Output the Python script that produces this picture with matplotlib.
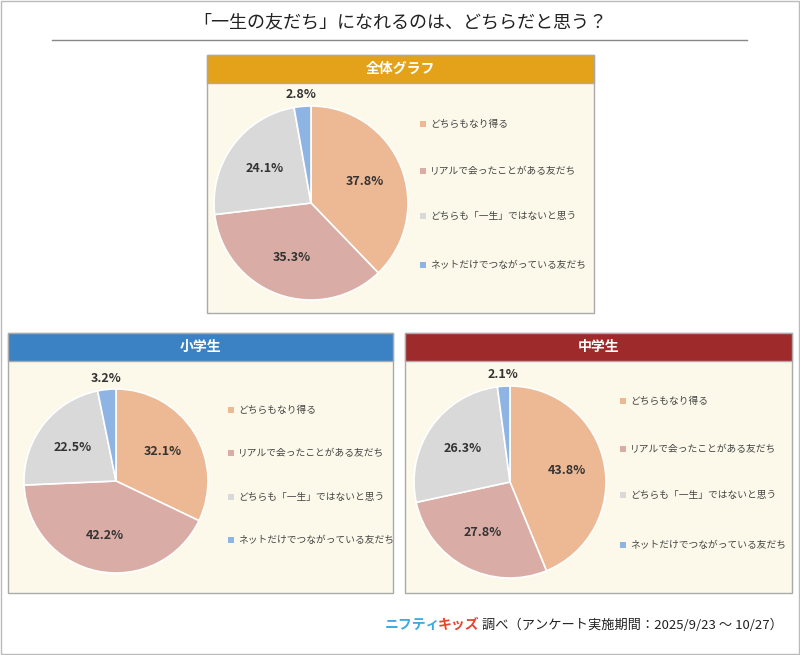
import numpy as np
import matplotlib.pyplot as plt
from matplotlib.patches import Rectangle

plt.rcParams['font.family'] = ['Noto Sans CJK JP', 'DejaVu Sans']

categories = ["どちらもなり得る", "リアルで会ったことがある友だち", "どちらも「一生」ではないと思う", "ネットだけでつながっている友だち"]
all_vals = [37.8, 35.3, 24.1, 2.8]
elem_vals = [32.1, 42.2, 22.5, 3.2]
junior_vals = [43.8, 27.8, 26.3, 2.1]
colors = ["#EDB894", "#D9ADA5", "#D9D9D9", "#8DB4E2"]

W, H = 800, 655
fig = plt.figure(figsize=(8, 6.55), dpi=100)
bg = fig.add_axes([0, 0, 1, 1])
bg.set_xlim(0, W)
bg.set_ylim(H, 0)
bg.axis('off')
bg.add_patch(Rectangle((1, 1), W - 2, H - 2, fill=False, ec='#BBBBBB', lw=1))
bg.text(400, 22, "「一生の友だち」になれるのは、どちらだと思う？", ha='center', va='center', fontsize=13, color='#222222')
bg.plot([52, 747], [40, 40], color='#888888', lw=1)


def panel(x0, y0, w, h, hcolor, title, vals, cx, cy, r, lx, lys):
    bg.add_patch(Rectangle((x0, y0), w, h, fc='#FCF9EA', ec='#AAAAAA', lw=1))
    bg.add_patch(Rectangle((x0, y0), w, 28, fc=hcolor, ec='#AAAAAA', lw=1))
    bg.text(x0 + w / 2, y0 + 14, title, ha='center', va='center', fontsize=10, fontweight='bold', color='white')
    ax = fig.add_axes([(cx - r) / W, 1 - (cy + r) / H, 2 * r / W, 2 * r / H])
    ax.pie(vals, colors=colors, startangle=90, counterclock=False, radius=1,
           wedgeprops=dict(ec='white', lw=1.2))
    ax.set_xlim(-1, 1)
    ax.set_ylim(-1, 1)
    ax.axis('off')
    start = 90.0
    for v in vals:
        mid = np.deg2rad(start - v * 3.6 / 2)
        d = 0.6 if v > 5 else 1.12
        ax.text(d * np.cos(mid), d * np.sin(mid), f"{v}%", ha='center', va='center',
                fontsize=9, fontweight='bold', color='#333333', clip_on=False)
        start -= v * 3.6
    for c, lab, ly in zip(colors, categories, lys):
        bg.add_patch(Rectangle((lx - 6, ly - 3), 6, 6, fc=c, ec='none'))
        bg.text(lx + 4, ly, lab, ha='left', va='center', fontsize=7, color='#444444')


panel(207, 55, 387, 258, '#E3A21A', "全体グラフ", all_vals, 311, 203, 97, 426, [124, 171, 216, 265])
panel(8, 333, 385, 260, '#3A82C4', "小学生", elem_vals, 116, 481, 92, 234, [410, 453, 497, 540])
panel(405, 333, 387, 260, '#9E2A2B', "中学生", junior_vals, 510, 482, 96, 626, [401, 449, 495, 545])

bg.text(385, 625, "ニフティ", ha='left', va='center', fontsize=10, fontweight='bold', color='#3FA9E0')
bg.text(438, 625, "キッズ", ha='left', va='center', fontsize=10, fontweight='bold', color='#E8442E')
bg.text(482, 625, "調べ（アンケート実施期間：2025/9/23 ～ 10/27）", ha='left', va='center', fontsize=9.5, color='#222222')

fig.savefig('out.png', dpi=100)
